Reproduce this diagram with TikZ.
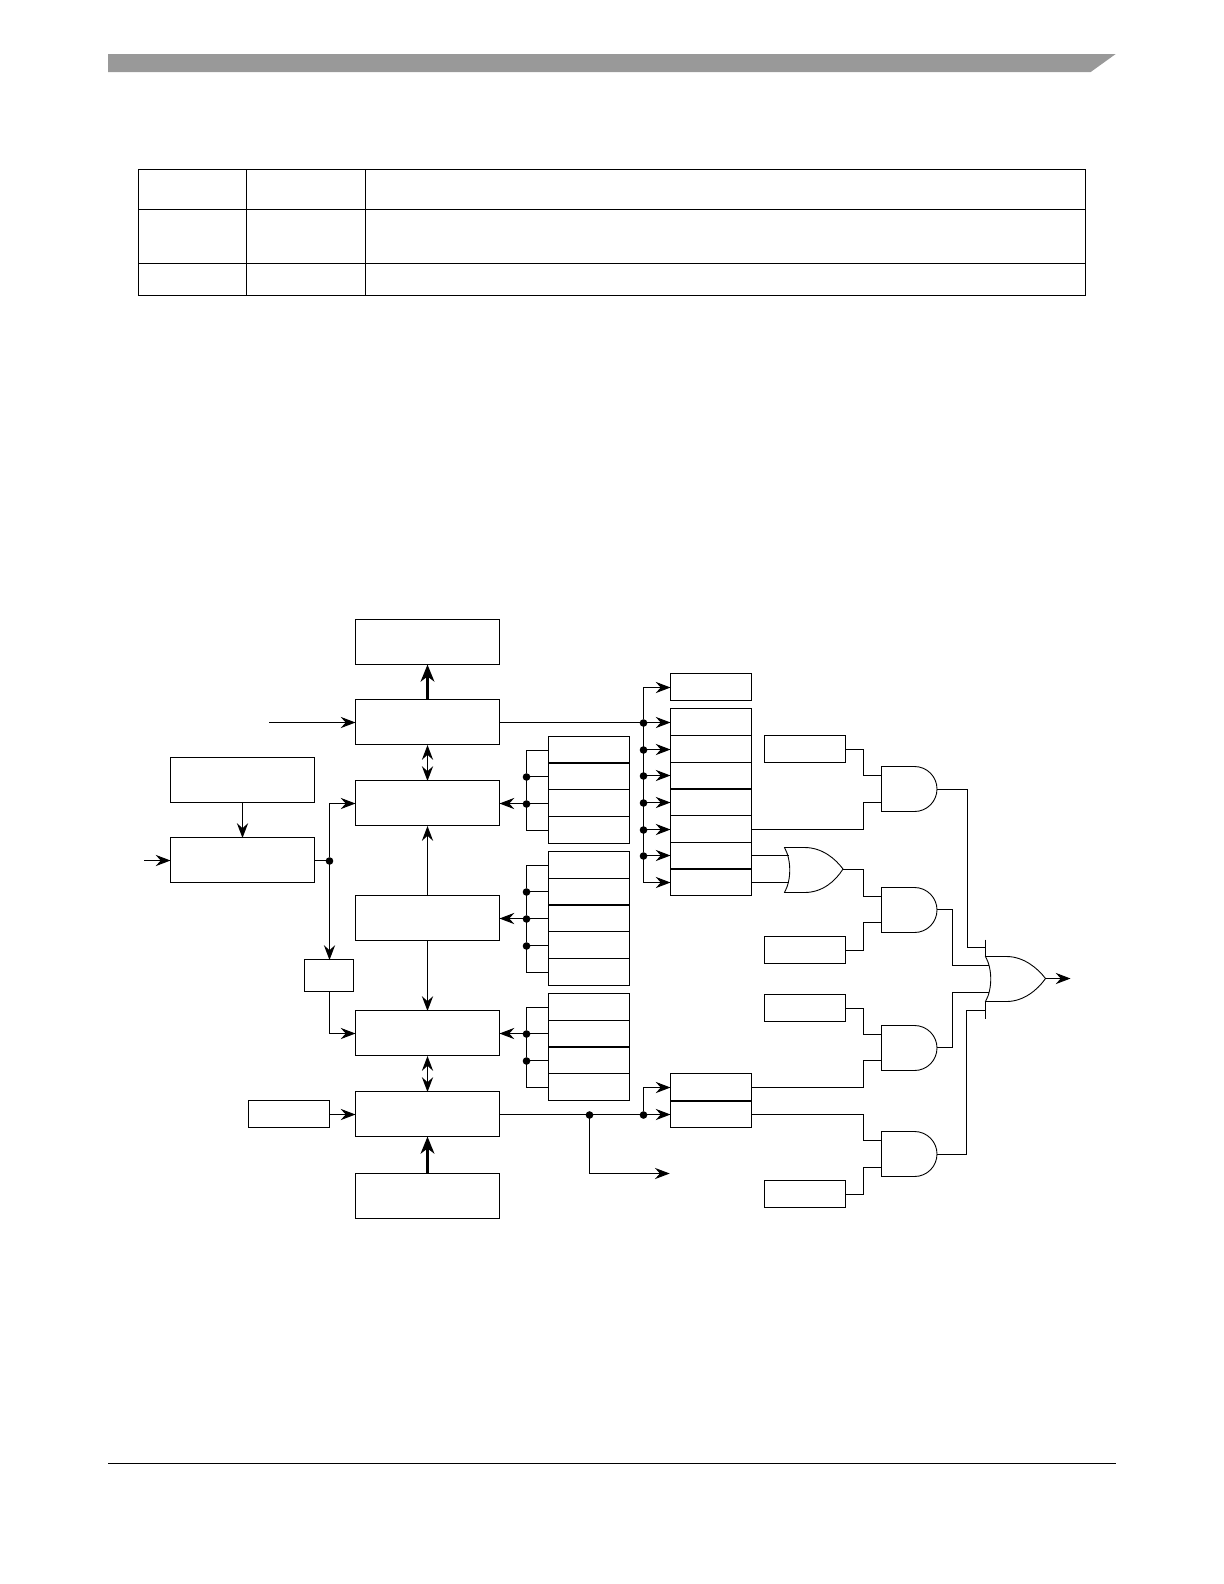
\documentclass[tikz,border=0pt]{standalone}
\usepackage{xcolor}
\usepackage{tikz}
\usetikzlibrary{arrows.meta, calc}
\definecolor{mybanner}{RGB}{153,153,153}
\tikzset{
  bigbox/.style={rectangle, draw=black, fill=white, minimum width=72bp, minimum height=22.5bp,
    inner sep=0pt, outer sep=0pt, line width=0.55bp},
  smallbox/.style={rectangle, draw=black, fill=white, minimum width=40.5bp, minimum height=13.5bp,
    inner sep=0pt, outer sep=0pt, line width=0.55bp},
  divbox/.style={rectangle, draw=black, fill=white, minimum width=24.5bp, minimum height=16bp,
    inner sep=0pt, outer sep=0pt, line width=0.55bp},
  joint/.style={circle, fill=black, minimum size=3.8bp, inner sep=0pt, outer sep=0pt,
    transform canvas={yshift=-0.25bp}},
  wire/.style={line width=0.5bp, color=black, transform canvas={yshift=-0.25bp}},
  arrow/.style={wire, -{Stealth[length=7.4bp, width=5.6bp, inset=2.5bp]}},
  dblarrow/.style={wire, {Stealth[length=7.4bp, width=5.6bp, inset=2.5bp]}-{Stealth[length=7.4bp, width=5.6bp, inset=2.5bp]}},
  fatarrow/.style={line width=1.6bp, -{Stealth[length=8.5bp, width=6.8bp, inset=2.5bp]}},
  sepline/.style={line width=1bp, transform canvas={yshift=-0.25bp}},
  gate/.style={line width=0.45bp, draw=black, fill=white},
  tableline/.style={line width=0.65bp}
}

\begin{document}
\begin{tikzpicture}[x=0.5bp, y=-0.5bp]
  \useasboundingbox[fill=white] (0,0) rectangle (1224,1584);

  % -- page furniture ---------------------------------------------------------
  \fill[mybanner] (108,54) -- (1115.7,54) -- (1090.7,72) -- (108,72) -- cycle;
  \draw[line width=0.55bp] (108,1463.5) -- (1116,1463.5);

  % -- table ------------------------------------------------------------------
  \draw[tableline] (138.5,169.5) rectangle (1085.5,295.5);
  \draw[tableline] (138.5,209.5) -- (1085.5,209.5);
  \draw[tableline] (138.5,263.5) -- (1085.5,263.5);
  \draw[tableline] (246.5,169.5) -- (246.5,295.5);
  \draw[tableline] (365.5,169.5) -- (365.5,295.5);

  % -- centre column ----------------------------------------------------------
  \node[bigbox] (outbox) at (427.5,642) {};
  \node[bigbox] (txbox) at (427.5,722) {};
  \node[bigbox] (upbox) at (427.5,803) {};
  \node[bigbox] (midbox) at (427.5,918) {};
  \node[bigbox] (lowbox) at (427.5,1033) {};
  \node[bigbox] (rxbox) at (427.5,1114) {};
  \node[bigbox] (inbox) at (427.5,1196) {};

  % -- left column ------------------------------------------------------------
  \node[bigbox] (srcbox) at (242.5,780) {};
  \node[bigbox] (clkbox) at (242.5,860) {};
  \node[divbox] (prebox) at (329,975.5) {};
  \node[smallbox] (refbox) at (289,1114) {};
  \coordinate (txin) at (269,722);
  \coordinate (clkin) at (144,860);
  \node[joint] (clkdot) at (329.5,860) {};

  % -- register stack beside upbox --------------------------------------------
  \node[smallbox] (rega1) at (589,750) {};
  \node[smallbox] (rega2) at (589,776) {};
  \node[smallbox] (rega3) at (589,803) {};
  \node[smallbox] (rega4) at (589,830) {};
  \draw[sepline] (rega2.north west) -- (rega2.north east);
  \node[joint] (dota2) at (526.5,776) {};
  \node[joint] (dota3) at (526.5,803) {};

  % -- register stack beside midbox -------------------------------------------
  \node[smallbox] (regb2) at (589,891) {};
  \node[smallbox] (regb1) at (589,865) {};
  \node[smallbox] (regb3) at (589,918) {};
  \node[smallbox] (regb4) at (589,945) {};
  \node[smallbox] (regb5) at (589,972) {};
  \draw[sepline] (regb3.north west) -- (regb3.north east);
  \node[joint] (dotb2) at (526.5,891) {};
  \node[joint] (dotb3) at (526.5,918) {};
  \node[joint] (dotb4) at (526.5,945) {};

  % -- register stack beside lowbox -------------------------------------------
  \node[smallbox] (regc2) at (589,1033) {};
  \node[smallbox] (regc1) at (589,1007) {};
  \node[smallbox] (regc3) at (589,1060) {};
  \node[smallbox] (regc4) at (589,1087) {};
  \draw[sepline] (regc3.north west) -- (regc3.north east);
  \node[joint] (dotc2) at (526.5,1033) {};
  \node[joint] (dotc3) at (526.5,1060) {};

  % -- status registers -------------------------------------------------------
  \node[smallbox] (statbox) at (711,687) {};
  \node[smallbox] (stat1) at (711,722) {};
  \node[smallbox] (stat3) at (711,775) {};
  \node[smallbox] (stat2) at (711,749) {};
  \node[smallbox] (stat4) at (711,802) {};
  \node[smallbox] (stat6) at (711,855) {};
  \node[smallbox] (stat5) at (711,829) {};
  \node[smallbox] (stat7) at (711,882) {};
  \draw[sepline] (stat4.north west) -- (stat4.north east);
  \draw[sepline] (stat7.north west) -- (stat7.north east);
  \node[joint] (dots1) at (643.5,722) {};
  \node[joint] (dots2) at (643.5,749) {};
  \node[joint] (dots3) at (643.5,775) {};
  \node[joint] (dots4) at (643.5,802) {};
  \node[joint] (dots5) at (643.5,829) {};
  \node[joint] (dots6) at (643.5,855) {};

  % -- receive registers ------------------------------------------------------
  \node[smallbox] (recv1) at (711,1087) {};
  \node[smallbox] (recv2) at (711,1114) {};
  \draw[sepline] (recv2.north west) -- (recv2.north east);
  \node[joint] (dotr1) at (589.5,1114) {};
  \node[joint] (dotr2) at (643.5,1114) {};
  \coordinate (rxout) at (669.7,1173);

  % -- enable boxes -----------------------------------------------------------
  \node[smallbox] (ena) at (805,749) {};
  \node[smallbox] (enb) at (805,950) {};
  \node[smallbox] (enc) at (805,1008) {};
  \node[smallbox] (end) at (805,1194) {};

  % -- and gates --------------------------------------------------------------
  \begin{scope}[shift={(881.5,789)}]
    \draw[gate] (0,-22.5) -- (33,-22.5) arc[start angle=-90, end angle=90, radius=22.5] -- (0,22.5) -- cycle;
    \coordinate (anda1) at (0,-14);
    \coordinate (anda2) at (0,13);
    \coordinate (andao) at (55.5,0);
  \end{scope}
  \begin{scope}[shift={(881.5,910)}]
    \draw[gate] (0,-22.5) -- (33,-22.5) arc[start angle=-90, end angle=90, radius=22.5] -- (0,22.5) -- cycle;
    \coordinate (andb1) at (0,-14);
    \coordinate (andb2) at (0,12);
    \coordinate (andbo) at (55.5,-1);
  \end{scope}
  \begin{scope}[shift={(881.5,1048)}]
    \draw[gate] (0,-22.5) -- (33,-22.5) arc[start angle=-90, end angle=90, radius=22.5] -- (0,22.5) -- cycle;
    \coordinate (andc1) at (0,-14);
    \coordinate (andc2) at (0,12);
    \coordinate (andco) at (55.5,-1);
  \end{scope}
  \begin{scope}[shift={(881.5,1154)}]
    \draw[gate] (0,-22.5) -- (33,-22.5) arc[start angle=-90, end angle=90, radius=22.5] -- (0,22.5) -- cycle;
    \coordinate (andd1) at (0,-14);
    \coordinate (andd2) at (0,13);
    \coordinate (anddo) at (55.5,0);
  \end{scope}

  % -- or gates ---------------------------------------------------------------
  \begin{scope}[shift={(784.5,870)}]
    \draw[gate] (0,-22.5) .. controls (7,-10) and (7,10) .. (0,22.5)
      -- (20,22.5) .. controls (38,22.5) and (51,11) .. (58.5,-1)
      .. controls (51,-11) and (38,-22.5) .. (20,-22.5) -- cycle;
    \coordinate (orai) at (4,-15);
    \coordinate (oraj) at (4,12);
    \coordinate (orao) at (58.5,-1);
  \end{scope}
  \begin{scope}[shift={(985.5,979)}]
    \draw[gate] (0,-22.5) .. controls (7,-10) and (7,10) .. (0,22.5)
      -- (21,22.5) .. controls (38,22.5) and (52,11) .. (60,-0.5)
      .. controls (52,-11) and (38,-22.5) .. (21,-22.5) -- cycle;
    \draw[wire] (0,-40) -- (0,-23);
    \draw[wire] (0,22) -- (0,39);
    \coordinate (orbi) at (0,-32);
    \coordinate (orbj) at (3.5,-14);
    \coordinate (orbk) at (3.5,13);
    \coordinate (orbl) at (0,31);
    \coordinate (orbo) at (60,-1);
    \coordinate (orbout) at (85,-1);
  \end{scope}

  % -- centre column arrows ---------------------------------------------------
  \draw[fatarrow] (txbox.north) -- (outbox.south);
  \draw[dblarrow] (txbox.south) -- (upbox.north);
  \draw[arrow] (midbox.north) -- (upbox.south);
  \draw[arrow] (midbox.south) -- (lowbox.north);
  \draw[dblarrow] (lowbox.south) -- (rxbox.north);
  \draw[fatarrow] (inbox.north) -- (rxbox.south);

  % -- left side connectors ---------------------------------------------------
  \draw[arrow] (txin) -- (txbox.west);
  \draw[arrow] (clkin) -- (clkbox.west);
  \draw[arrow] (srcbox.south) -- (clkbox.north);
  \draw[wire] (clkbox.east) -- (clkdot);
  \draw[arrow] (clkdot) |- (upbox.west);
  \draw[arrow] (clkdot) -- (clkdot |- prebox.north);
  \draw[arrow] (clkdot |- prebox.south) |- (lowbox.west);
  \draw[arrow] (refbox.east) -- (rxbox.west);

  % -- register buses ---------------------------------------------------------
  \draw[wire] (rega1.west) -| (dota2) -- (dota3) |- (rega4.west);
  \draw[wire] (rega2.west) -- (dota2);
  \draw[wire] (rega3.west) -- (dota3);
  \draw[arrow] (dota3) -- (upbox.east);
  \draw[wire] (regb1.west) -| (dotb2) -- (dotb3) -- (dotb4) |- (regb5.west);
  \draw[wire] (regb2.west) -- (dotb2);
  \draw[wire] (regb3.west) -- (dotb3);
  \draw[wire] (regb4.west) -- (dotb4);
  \draw[arrow] (dotb3) -- (midbox.east);
  \draw[wire] (regc1.west) -| (dotc2) -- (dotc3) |- (regc4.west);
  \draw[wire] (regc2.west) -- (dotc2);
  \draw[wire] (regc3.west) -- (dotc3);
  \draw[arrow] (dotc2) -- (lowbox.east);

  % -- status fan out ---------------------------------------------------------
  \draw[wire] (txbox.east) -- (dots1);
  \draw[wire] (dots1) -- (dots6);
  \draw[arrow] (dots1) |- (statbox.west);
  \draw[arrow] (dots1) -- (stat1.west);
  \draw[arrow] (dots2) -- (stat2.west);
  \draw[arrow] (dots3) -- (stat3.west);
  \draw[arrow] (dots4) -- (stat4.west);
  \draw[arrow] (dots5) -- (stat5.west);
  \draw[arrow] (dots6) -- (stat6.west);
  \draw[arrow] (dots6) |- (stat7.west);

  % -- receive fan out --------------------------------------------------------
  \draw[wire] (rxbox.east) -- (dotr1);
  \draw[wire] (dotr1) -- (dotr2);
  \draw[arrow] (dotr2) -- (recv2.west);
  \draw[arrow] (dotr2) |- (recv1.west);
  \draw[arrow] (dotr1) |- (rxout);

  % -- gate inputs ------------------------------------------------------------
  \coordinate (elbow) at (863.5,700);
  \draw[wire] (ena.east) -- (elbow |- ena.east) |- (anda1);
  \draw[wire] (stat5.east) -- (elbow |- stat5.east) |- (anda2);
  \draw[wire] (stat6.east) -- (orai);
  \draw[wire] (stat7.east) -- (oraj);
  \draw[wire] (orao) -- (elbow |- orao) |- (andb1);
  \draw[wire] (enb.east) -- (elbow |- enb.east) |- (andb2);
  \draw[wire] (enc.east) -- (elbow |- enc.east) |- (andc1);
  \draw[wire] (recv1.east) -- (elbow |- recv1.east) |- (andc2);
  \draw[wire] (recv2.east) -- (elbow |- recv2.east) |- (andd1);
  \draw[wire] (end.east) -- (elbow |- end.east) |- (andd2);

  % -- gate outputs -----------------------------------------------------------
  \coordinate (outera) at (967.5,900);
  \coordinate (outerb) at (966.5,900);
  \coordinate (innera) at (952.5,900);
  \draw[wire] (andao) -- (outera |- andao) |- (orbi);
  \draw[wire] (andbo) -- (innera |- andbo) |- (orbj);
  \draw[wire] (andco) -- (innera |- andco) |- (orbk);
  \draw[wire] (anddo) -- (outerb |- anddo) |- (orbl);
  \draw[arrow] (orbo) -- (orbout);
\end{tikzpicture}
\end{document}
